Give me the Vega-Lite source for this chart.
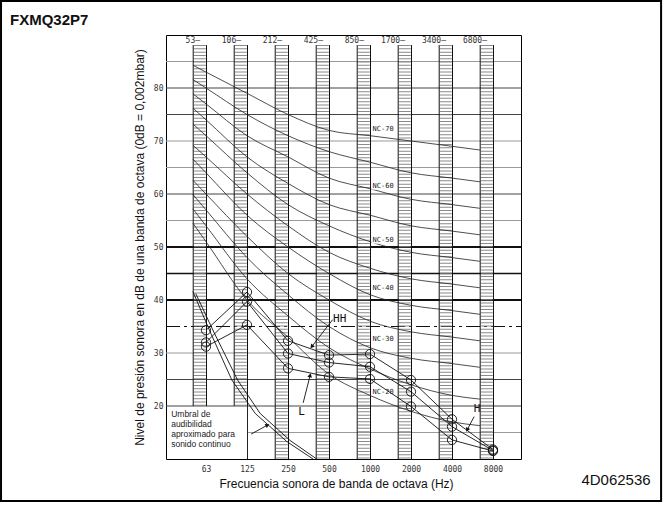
{
 "$schema": "https://vega.github.io/schema/vega-lite/v6.json",
 "width": 355, "height": 424,
 "autosize": {"type": "none"},
 "padding": {"left": 166, "top": 35, "right": 143, "bottom": 48},
 "background": "white",
 "config": {"view": {"stroke": "black", "strokeWidth": 1}, "font": "Liberation Sans"},
 "datasets": {
  "cols": [{"o":0,"top":"53—"},{"o":1,"top":"106—"},{"o":2,"top":"212—"},{"o":3,"top":"425—"},{"o":4,"top":"850—"},{"o":5,"top":"1700—"},{"o":6,"top":"3400—"},{"o":7,"top":"6800—"}],
  "nc": [
   {"c":"NC-20","o":-0.32,"db":54.5},{"c":"NC-20","o":0,"db":51},{"c":"NC-20","o":1,"db":40},{"c":"NC-20","o":2,"db":33},{"c":"NC-20","o":3,"db":26},{"c":"NC-20","o":4,"db":22},{"c":"NC-20","o":5,"db":19},{"c":"NC-20","o":6,"db":17},{"c":"NC-20","o":6.68,"db":16.3},
   {"c":"NC-25","o":-0.32,"db":57.2},{"c":"NC-25","o":0,"db":54},{"c":"NC-25","o":1,"db":44},{"c":"NC-25","o":2,"db":37},{"c":"NC-25","o":3,"db":31},{"c":"NC-25","o":4,"db":27},{"c":"NC-25","o":5,"db":24},{"c":"NC-25","o":6,"db":22},{"c":"NC-25","o":6.68,"db":21.3},
   {"c":"NC-30","o":-0.32,"db":59.9},{"c":"NC-30","o":0,"db":57},{"c":"NC-30","o":1,"db":48},{"c":"NC-30","o":2,"db":41},{"c":"NC-30","o":3,"db":35},{"c":"NC-30","o":4,"db":31},{"c":"NC-30","o":5,"db":29},{"c":"NC-30","o":6,"db":28},{"c":"NC-30","o":6.68,"db":27.3},
   {"c":"NC-35","o":-0.32,"db":62.6},{"c":"NC-35","o":0,"db":60},{"c":"NC-35","o":1,"db":52},{"c":"NC-35","o":2,"db":45},{"c":"NC-35","o":3,"db":40},{"c":"NC-35","o":4,"db":36},{"c":"NC-35","o":5,"db":34},{"c":"NC-35","o":6,"db":33},{"c":"NC-35","o":6.68,"db":32.3},
   {"c":"NC-40","o":-0.32,"db":66.6},{"c":"NC-40","o":0,"db":64},{"c":"NC-40","o":1,"db":56},{"c":"NC-40","o":2,"db":50},{"c":"NC-40","o":3,"db":45},{"c":"NC-40","o":4,"db":41},{"c":"NC-40","o":5,"db":39},{"c":"NC-40","o":6,"db":38},{"c":"NC-40","o":6.68,"db":37.3},
   {"c":"NC-45","o":-0.32,"db":69.2},{"c":"NC-45","o":0,"db":67},{"c":"NC-45","o":1,"db":60},{"c":"NC-45","o":2,"db":54},{"c":"NC-45","o":3,"db":49},{"c":"NC-45","o":4,"db":46},{"c":"NC-45","o":5,"db":44},{"c":"NC-45","o":6,"db":43},{"c":"NC-45","o":6.68,"db":42.3},
   {"c":"NC-50","o":-0.32,"db":73.2},{"c":"NC-50","o":0,"db":71},{"c":"NC-50","o":1,"db":64},{"c":"NC-50","o":2,"db":58},{"c":"NC-50","o":3,"db":54},{"c":"NC-50","o":4,"db":51},{"c":"NC-50","o":5,"db":49},{"c":"NC-50","o":6,"db":48},{"c":"NC-50","o":6.68,"db":47.3},
   {"c":"NC-55","o":-0.32,"db":76.2},{"c":"NC-55","o":0,"db":74},{"c":"NC-55","o":1,"db":67},{"c":"NC-55","o":2,"db":62},{"c":"NC-55","o":3,"db":58},{"c":"NC-55","o":4,"db":56},{"c":"NC-55","o":5,"db":54},{"c":"NC-55","o":6,"db":53},{"c":"NC-55","o":6.68,"db":52.3},
   {"c":"NC-60","o":-0.32,"db":78.9},{"c":"NC-60","o":0,"db":77},{"c":"NC-60","o":1,"db":71},{"c":"NC-60","o":2,"db":67},{"c":"NC-60","o":3,"db":63},{"c":"NC-60","o":4,"db":61},{"c":"NC-60","o":5,"db":59},{"c":"NC-60","o":6,"db":58},{"c":"NC-60","o":6.68,"db":57.3},
   {"c":"NC-65","o":-0.32,"db":81.6},{"c":"NC-65","o":0,"db":80},{"c":"NC-65","o":1,"db":75},{"c":"NC-65","o":2,"db":71},{"c":"NC-65","o":3,"db":68},{"c":"NC-65","o":4,"db":66},{"c":"NC-65","o":5,"db":64},{"c":"NC-65","o":6,"db":63},{"c":"NC-65","o":6.68,"db":62.3},
   {"c":"NC-70","o":-0.32,"db":84.3},{"c":"NC-70","o":0,"db":83},{"c":"NC-70","o":1,"db":79},{"c":"NC-70","o":2,"db":75},{"c":"NC-70","o":3,"db":72},{"c":"NC-70","o":4,"db":71},{"c":"NC-70","o":5,"db":70},{"c":"NC-70","o":6,"db":69},{"c":"NC-70","o":6.68,"db":68.3}
  ],
  "nclab": [{"c":"NC-70","o":4.32,"db":72.2},{"c":"NC-60","o":4.32,"db":61.5},{"c":"NC-50","o":4.32,"db":51.4},{"c":"NC-40","o":4.32,"db":42.2},{"c":"NC-30","o":4.32,"db":32.6},{"c":"NC-20","o":4.32,"db":22.7}],
  "meas": [
   {"s":"HH","o":0,"db":34.3},{"s":"HH","o":1,"db":41.5},{"s":"HH","o":2,"db":32.3},{"s":"HH","o":3,"db":29.6},{"s":"HH","o":4,"db":29.8},{"s":"HH","o":5,"db":24.9},{"s":"HH","o":6,"db":17.5},{"s":"HH","o":7,"db":11.8},
   {"s":"H","o":0,"db":32.0},{"s":"H","o":1,"db":39.7},{"s":"H","o":2,"db":29.9},{"s":"H","o":3,"db":28.2},{"s":"H","o":4,"db":27.4},{"s":"H","o":5,"db":22.7},{"s":"H","o":6,"db":16.1},{"s":"H","o":7,"db":11.6},
   {"s":"L","o":0,"db":31.2},{"s":"L","o":1,"db":35.3},{"s":"L","o":2,"db":27.1},{"s":"L","o":3,"db":25.5},{"s":"L","o":4,"db":25.1},{"s":"L","o":5,"db":19.9},{"s":"L","o":6,"db":13.6},{"s":"L","o":7,"db":11.5}
  ],
  "thr": [
   {"s":"A","o":-0.32,"db":41.6},{"s":"A","o":0.1,"db":34.0},{"s":"A","o":0.63,"db":24.9},{"s":"A","o":1.2,"db":18.6},{"s":"A","o":1.97,"db":13.3},{"s":"A","o":2.61,"db":10.0},
   {"s":"B","o":-0.25,"db":41.2},{"s":"B","o":0.2,"db":33.8},{"s":"B","o":0.77,"db":24.9},{"s":"B","o":1.32,"db":18.6},{"s":"B","o":2.05,"db":13.5},{"s":"B","o":2.7,"db":10.0}
  ],
  "tags": [{"t":"HH","o":3.1,"db":36.4},{"t":"L","o":2.25,"db":18.9},{"t":"H","o":6.53,"db":19.4}],
  "arrows": [{"o":3.09,"db":36.3,"o2":2.58,"db2":31.2},{"o":2.37,"db":20.6,"o2":2.54,"db2":25.8},{"o":6.54,"db":18.0,"o2":6.37,"db2":15.5},{"o":1.1,"db":14.7,"o2":1.5,"db2":16.4}]
 },
 "layer": [
  {"data": {"values": [{"db":85},{"db":70},{"db":65},{"db":55},{"db":30}]}, "mark": {"type": "rule", "stroke": "#9a9a9a", "strokeWidth": 1.2},
   "encoding": {"x": {"datum": -0.976, "scale": {"domain": [-0.976, 7.683], "nice": false, "zero": false}}, "x2": {"datum": 7.683}, "y": {"field": "db", "type": "quantitative", "scale": {"domain": [10, 90], "nice": false, "zero": false}}}},
  {"data": {"values": [{"db":80},{"db":75},{"db":60},{"db":25},{"db":20}]}, "mark": {"type": "rule", "stroke": "#444", "strokeWidth": 1},
   "encoding": {"x": {"datum": -0.976}, "x2": {"datum": 7.683}, "y": {"field": "db", "type": "quantitative"}}},
  {"data": {"values": [{"db":50},{"db":40}]}, "mark": {"type": "rule", "stroke": "#111", "strokeWidth": 2},
   "encoding": {"x": {"datum": -0.976}, "x2": {"datum": 7.683}, "y": {"field": "db", "type": "quantitative"}}},
  {"data": {"values": [{"db":45}]}, "mark": {"type": "rule", "stroke": "#111", "strokeWidth": 1.4},
   "encoding": {"x": {"datum": -0.976}, "x2": {"datum": 7.683}, "y": {"field": "db", "type": "quantitative"}}},
  {"data": {"values": [{"db":35}]}, "mark": {"type": "rule", "stroke": "#111", "strokeWidth": 1.2, "strokeDash": [14, 4, 3, 4]},
   "encoding": {"x": {"datum": -0.976}, "x2": {"datum": 7.683}, "y": {"field": "db", "type": "quantitative"}}},
  {"data": {"values": [{"db":15}]}, "mark": {"type": "rule", "stroke": "#9a9a9a", "strokeWidth": 1.2},
   "encoding": {"x": {"datum": 1}, "x2": {"datum": 7.683}, "y": {"field": "db", "type": "quantitative"}}},
  {"data": {"values": [{"o":1}]}, "mark": {"type": "rule", "stroke": "#222", "strokeWidth": 1, "xOffset": 0.5},
   "encoding": {"x": {"field": "o", "type": "quantitative"}, "y": {"datum": 10}, "y2": {"datum": 20}}},
  {"data": {"name": "cols"}, "transform": [{"filter": "datum.o < 2"}], "mark": {"type": "rule", "stroke": "#8a8a8a", "strokeWidth": 12, "strokeDash": [1, 2.3], "xOffset": -6.2},
   "encoding": {"x": {"field": "o", "type": "quantitative"}, "y": {"datum": 88.1}, "y2": {"datum": 20}}},
  {"data": {"name": "cols"}, "transform": [{"filter": "datum.o >= 2"}], "mark": {"type": "rule", "stroke": "#8a8a8a", "strokeWidth": 12, "strokeDash": [1, 2.3], "xOffset": -6.2},
   "encoding": {"x": {"field": "o", "type": "quantitative"}, "y": {"datum": 88.1}, "y2": {"datum": 10}}},
  {"data": {"name": "cols"}, "transform": [{"filter": "datum.o < 2"}], "mark": {"type": "rule", "stroke": "#111", "strokeWidth": 1, "xOffset": -12.8},
   "encoding": {"x": {"field": "o", "type": "quantitative"}, "y": {"datum": 88.1}, "y2": {"datum": 20}}},
  {"data": {"name": "cols"}, "transform": [{"filter": "datum.o < 2"}], "mark": {"type": "rule", "stroke": "#111", "strokeWidth": 1, "xOffset": 0.5},
   "encoding": {"x": {"field": "o", "type": "quantitative"}, "y": {"datum": 88.1}, "y2": {"datum": 20}}},
  {"data": {"name": "cols"}, "transform": [{"filter": "datum.o >= 2"}], "mark": {"type": "rule", "stroke": "#111", "strokeWidth": 1, "xOffset": -12.8},
   "encoding": {"x": {"field": "o", "type": "quantitative"}, "y": {"datum": 88.1}, "y2": {"datum": 10}}},
  {"data": {"name": "cols"}, "transform": [{"filter": "datum.o >= 2"}], "mark": {"type": "rule", "stroke": "#111", "strokeWidth": 1, "xOffset": 0.5},
   "encoding": {"x": {"field": "o", "type": "quantitative"}, "y": {"datum": 88.1}, "y2": {"datum": 10}}},
  {"data": {"name": "cols"}, "mark": {"type": "text", "align": "right", "baseline": "middle", "xOffset": -6, "font": "DejaVu Sans Mono", "fontSize": 8, "fill": "#333"},
   "encoding": {"x": {"field": "o", "type": "quantitative"}, "y": {"datum": 88.9}, "text": {"field": "top"}}},
  {"data": {"name": "nc"}, "mark": {"type": "line", "interpolate": "monotone", "stroke": "#222", "strokeWidth": 0.8},
   "encoding": {"x": {"field": "o", "type": "quantitative"}, "y": {"field": "db", "type": "quantitative"}, "detail": {"field": "c"}}},
  {"data": {"name": "nclab"}, "mark": {"type": "text", "font": "DejaVu Sans Mono", "fontSize": 7, "stroke": "white", "strokeWidth": 3, "fill": "white"},
   "encoding": {"x": {"field": "o", "type": "quantitative"}, "y": {"field": "db", "type": "quantitative"}, "text": {"field": "c"}}},
  {"data": {"name": "nclab"}, "mark": {"type": "text", "font": "DejaVu Sans Mono", "fontSize": 7, "fill": "#222"},
   "encoding": {"x": {"field": "o", "type": "quantitative"}, "y": {"field": "db", "type": "quantitative"}, "text": {"field": "c"}}},
  {"data": {"name": "thr"}, "mark": {"type": "line", "stroke": "#111", "strokeWidth": 0.9},
   "encoding": {"x": {"field": "o", "type": "quantitative"}, "y": {"field": "db", "type": "quantitative"}, "detail": {"field": "s"}}},
  {"data": {"name": "meas"}, "mark": {"type": "line", "stroke": "#111", "strokeWidth": 0.9},
   "encoding": {"x": {"field": "o", "type": "quantitative"}, "y": {"field": "db", "type": "quantitative"}, "detail": {"field": "s"}}},
  {"data": {"name": "meas"}, "mark": {"type": "point", "shape": "circle", "size": 85, "filled": false, "stroke": "#111", "strokeWidth": 0.9, "opacity": 1},
   "encoding": {
    "x": {"field": "o", "type": "quantitative", "scale": {"domain": [-0.976, 7.683], "nice": false, "zero": false},
          "axis": {"values": [0,1,2,3,4,5,6,7], "labelExpr": "['63','125','250','500','1000','2000','4000','8000'][datum.value]", "title": "Frecuencia sonora de banda de octava (Hz)", "grid": false, "ticks": false, "domain": false, "labelFont": "DejaVu Sans Mono", "labelFontSize": 8, "labelColor": "#333", "labelPadding": 6, "titleFont": "Liberation Sans", "titleFontSize": 12, "titleFontWeight": "normal", "titleColor": "#111", "titlePadding": 5, "titleX": 170}},
    "y": {"field": "db", "type": "quantitative", "scale": {"domain": [10, 90], "nice": false, "zero": false},
          "axis": {"values": [20,30,40,50,60,70,80], "title": "Nivel de presión sonora en dB de una banda de octava (0dB = 0,002mbar)", "grid": false, "ticks": false, "domain": false, "labelFont": "DejaVu Sans Mono", "labelFontSize": 8, "labelColor": "#333", "labelPadding": 3, "titleFont": "Liberation Sans", "titleFontSize": 12, "titleFontWeight": "normal", "titleColor": "#111", "titlePadding": 7}}}},
  {"data": {"name": "tags"}, "mark": {"type": "text", "align": "left", "baseline": "middle", "font": "DejaVu Sans Mono", "fontSize": 11, "fill": "#111"},
   "encoding": {"x": {"field": "o", "type": "quantitative"}, "y": {"field": "db", "type": "quantitative"}, "text": {"field": "t"}}},
  {"data": {"name": "arrows"}, "mark": {"type": "rule", "stroke": "#111", "strokeWidth": 0.9},
   "encoding": {"x": {"field": "o", "type": "quantitative"}, "y": {"field": "db", "type": "quantitative"}, "x2": {"field": "o2"}, "y2": {"field": "db2"}}},
  {"data": {"values": [{}]}, "mark": {"type": "point", "shape": "triangle-right", "angle": 128, "filled": true, "size": 22, "fill": "#111", "opacity": 1},
   "encoding": {"x": {"datum": 2.58}, "y": {"datum": 31.2}}},
  {"data": {"values": [{}]}, "mark": {"type": "point", "shape": "triangle-right", "angle": -76, "filled": true, "size": 22, "fill": "#111", "opacity": 1},
   "encoding": {"x": {"datum": 2.54}, "y": {"datum": 25.8}}},
  {"data": {"values": [{}]}, "mark": {"type": "point", "shape": "triangle-right", "angle": 117, "filled": true, "size": 22, "fill": "#111", "opacity": 1},
   "encoding": {"x": {"datum": 6.37}, "y": {"datum": 15.5}}},
  {"data": {"values": [{}]}, "mark": {"type": "point", "shape": "triangle-right", "angle": -28, "filled": true, "size": 22, "fill": "#111", "opacity": 1},
   "encoding": {"x": {"datum": 1.5}, "y": {"datum": 16.4}}},
  {"data": {"values": [{"t": "Umbral de\naudibilidad\naproximado para\nsonido continuo"}]}, "mark": {"type": "text", "align": "left", "baseline": "top", "lineBreak": "\n", "lineHeight": 10, "font": "Liberation Sans", "fontSize": 8.5, "fill": "#222"},
   "encoding": {"x": {"datum": -0.85}, "y": {"datum": 19.3}, "text": {"field": "t"}}},
  {"data": {"values": [{"t": "FXMQ32P7"}]}, "mark": {"type": "text", "align": "left", "baseline": "alphabetic", "font": "Liberation Sans", "fontSize": 15, "fontWeight": "bold", "fill": "#111"},
   "encoding": {"x": {"datum": -4.78}, "y": {"datum": 91.9}, "text": {"field": "t"}}},
  {"data": {"values": [{"t": "4D062536"}]}, "mark": {"type": "text", "align": "center", "baseline": "middle", "font": "Liberation Sans", "fontSize": 15, "fill": "#111"},
   "encoding": {"x": {"datum": 10.0}, "y": {"datum": 6.0}, "text": {"field": "t"}}},
  {"data": {"values": [{}]}, "mark": {"type": "rect", "filled": false, "stroke": "#000", "strokeWidth": 2},
   "encoding": {"x": {"datum": -5.0}, "x2": {"datum": 11.1}, "y": {"datum": 96.4}, "y2": {"datum": 2.08}}}
 ]
}
